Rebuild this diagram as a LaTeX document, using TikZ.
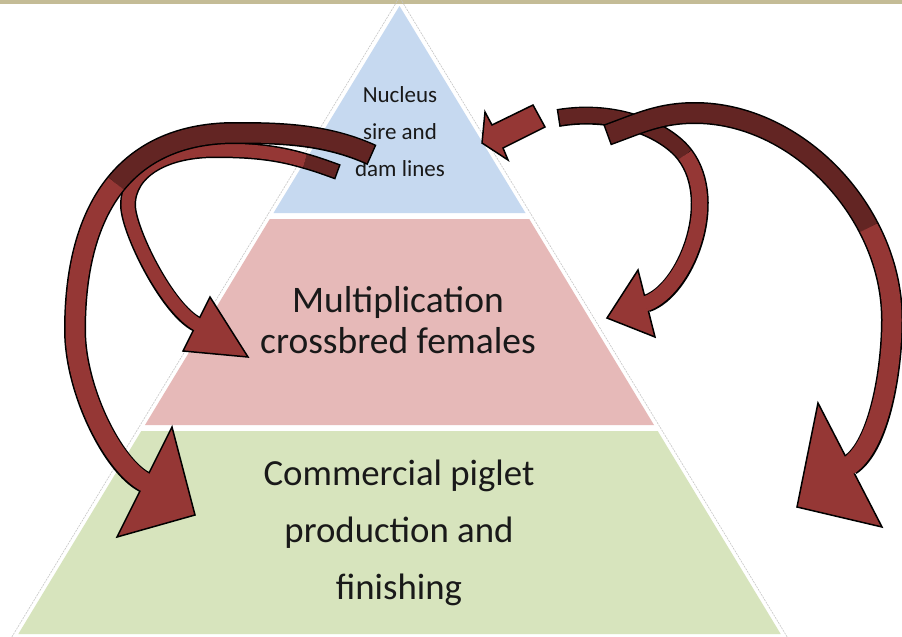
\documentclass[tikz,border=0pt]{standalone}
\usepackage{fontspec}
\setmainfont{Carlito}
\usepackage{tikz}
\usetikzlibrary{positioning,calc}
\definecolor{nucleusblue}{HTML}{C6D9F0}
\definecolor{multipink}{HTML}{E6B9B8}
\definecolor{commgreen}{HTML}{D7E4BD}
\definecolor{arrowred}{HTML}{953735}
\definecolor{arrowdark}{HTML}{632523}
\definecolor{topbar}{HTML}{C4BC96}
\tikzset{rim/.style={draw=black, line width=#1}}

\begin{document}
\begin{tikzpicture}[x=1pt,y=-1pt]
\tikzstyle{tiertext} = [align=center, inner sep=0pt, text=black!90]
\tikzstyle{headfill} = [fill=arrowred, draw=black, line width=1.5pt, line join=miter]
\tikzstyle{backside} = [draw=arrowdark, shorten <=1.5pt]
\tikzstyle{frontside} = [draw=arrowred, shorten >=-2pt]

\useasboundingbox (0,0) rectangle (902,637);
\fill[white] (0,0) rectangle (902,637);
\fill[topbar] (0,0) rectangle (902,4);

% pyramid
    \fill[nucleusblue] (399.5,6) -- (273.5,213) -- (525.5,213) -- cycle;
    \fill[multipink] (269.8,219) -- (529.2,219) -- (654,425) -- (145,425) -- cycle;
    \fill[commgreen] (141.3,431) -- (657.7,431) -- (780.7,634) -- (18.3,634) -- cycle;
    \draw[gray!45, line width=0.6pt, dash pattern=on 2pt off 1pt] (11.8,637) -- (399.5,-2.8) -- (787.2,637);
% texts
    \node[tiertext, font=\fontsize{23}{37}\selectfont] (nucleus) at (400,132) {Nucleus\\sire and\\dam lines};
    \node[tiertext, font=\fontsize{37.5}{41}\selectfont] (multiplication) at (398,320) {Multiplication\\crossbred females};
    \node[tiertext, font=\fontsize{36.8}{57}\selectfont] (commercial) at (399,533) {Commercial piglet\\production and\\finishing};

% arrows
    % inner left: nucleus to multiplication
    \coordinate (L1 tail) at (338,172);
    \coordinate (L1 twist) at (305,161);
    \coordinate (L1 top) at (215,150);
    \coordinate (L1 side) at (128,205);
    \coordinate (L1 end) at (196.5,324);
    \path[rim=16pt] (L1 tail) .. controls (327,168) and (316,164) .. (L1 twist) .. controls (275,152) and (248,150) .. (L1 top) .. controls (163,150) and (128,172) .. (L1 side) .. controls (128,230) and (167,309) .. (L1 end);
    \path[headfill] (210,297) -- (248,357) -- (183,351) -- cycle;
    \path[backside, line width=13pt] (L1 tail) .. controls (327,168) and (316,164) .. (L1 twist);
    \path[frontside, line width=13pt] (L1 twist) .. controls (275,152) and (248,150) .. (L1 top) .. controls (163,150) and (128,172) .. (L1 side) .. controls (128,230) and (167,309) .. (L1 end);
    % outer left: nucleus to commercial
    \coordinate (L2 tail) at (372,155);
    \coordinate (L2 top) at (235,133);
    \coordinate (L2 bend) at (116,183.5);
    \coordinate (L2 side) at (75,330);
    \coordinate (L2 end) at (144.5,482);
    \path[rim=22pt] (L2 tail) .. controls (326,134) and (280,133) .. (L2 top) .. controls (183,133) and (143,150.3) .. (L2 bend) .. controls (89,216.8) and (75,266) .. (L2 side) .. controls (75,390) and (113,466) .. (L2 end);
    \path[headfill] (172,427) -- (195,515) -- (117,537) -- cycle;
    \path[backside, line width=19pt] (L2 tail) .. controls (326,134) and (280,133) .. (L2 top) .. controls (183,133) and (143,150.3) .. (L2 bend);
    \path[frontside, line width=19pt] (L2 bend) .. controls (89,216.8) and (75,266) .. (L2 side) .. controls (75,390) and (113,466) .. (L2 end);
    % inner right: nucleus to multiplication
    \coordinate (R1 tail) at (558,118);
    \coordinate (R1 bend) at (685,155);
    \coordinate (R1 end) at (646.5,303.5);
    \path[rim=18pt] (R1 tail) .. controls (617,108) and (667,131) .. (R1 bend) .. controls (721,203) and (684.5,291.5) .. (R1 end);
    \path[headfill] (638,270) -- (607,318) -- (655,337) -- cycle;
    \path[backside, line width=15pt] (R1 tail) .. controls (617,108) and (667,131) .. (R1 bend);
    \path[frontside, line width=15pt] (R1 bend) .. controls (721,203) and (684.5,291.5) .. (R1 end);
    % outer right: nucleus to commercial
    \coordinate (R2 tail) at (607,135);
    \coordinate (R2 top) at (695,113);
    \coordinate (R2 bend) at (868.7,227.7);
    \coordinate (R2 side) at (892,320);
    \coordinate (R2 end) at (850,465);
    \path[rim=22pt] (R2 tail) .. controls (640,123) and (660,113) .. (R2 top) .. controls (766.4,113) and (834.4,161.5) .. (R2 bend) .. controls (883.5,256) and (892,287.6) .. (R2 side) .. controls (892,370) and (879.4,446.1) .. (R2 end);
    \path[headfill] (818,403) -- (797,507) -- (882,527) -- cycle;
    \path[backside, line width=19pt] (R2 tail) .. controls (640,123) and (660,113) .. (R2 top) .. controls (766.4,113) and (834.4,161.5) .. (R2 bend);
    \path[frontside, line width=19pt] (R2 bend) .. controls (883.5,256) and (892,287.6) .. (R2 side) .. controls (892,370) and (879.4,446.1) .. (R2 end);
    % short arrow into nucleus
    \path[headfill] (533,105) -- (545,127) -- (503,148) -- (508,160) -- (482,143) -- (485,112) -- (492,125) -- cycle;
\end{tikzpicture}
\end{document}
